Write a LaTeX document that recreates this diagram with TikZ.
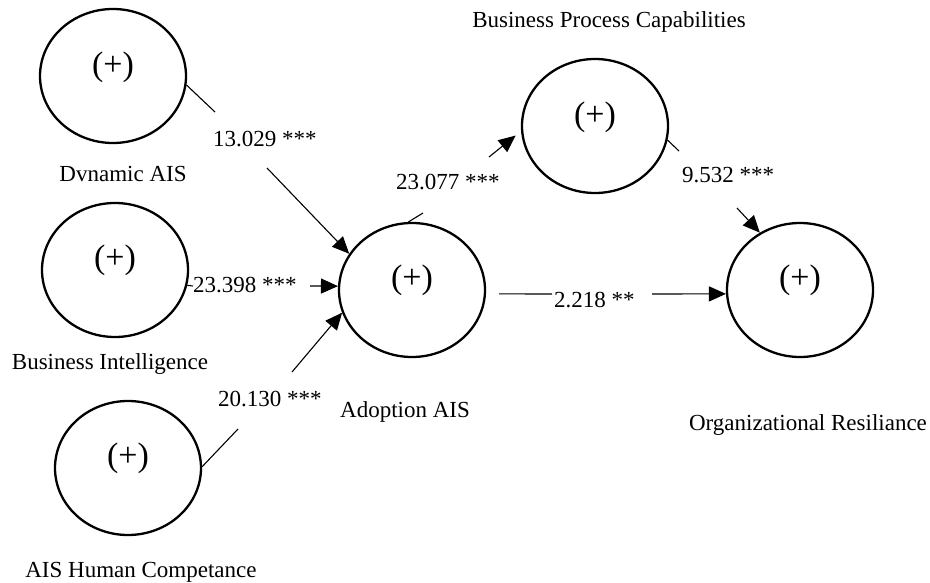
\documentclass[tikz,border=0pt]{standalone}
\usepackage{fontspec}
\setmainfont{Liberation Serif}
\usetikzlibrary{shapes.geometric,arrows.meta}
\begin{document}
\begin{tikzpicture}[x=1pt,y=-1pt,
  construct/.style={ellipse,draw,line width=2.3pt,minimum width=146pt,minimum height=134pt,inner sep=0pt},
  plussign/.style={font=\fontsize{34}{40}\selectfont,inner sep=0pt},
  cname/.style={font=\fontsize{23}{27}\selectfont,inner sep=0pt,anchor=base},
  coef/.style={font=\fontsize{23}{27}\selectfont,inner sep=0pt,anchor=base west},
  link/.style={line width=1.1pt},
  arr/.style={line width=1.1pt,-{Triangle[length=17pt,width=15pt]}}]
\useasboundingbox (0,0) rectangle (930,583);
% constructs
\node[construct] (dyn) at (113,76) {};
\node[construct] (bi)  at (115,270) {};
\node[construct] (hc)  at (128,468) {};
\node[construct] (ado) at (412,290) {};
\node[construct] (bpc) at (595,126) {};
\node[construct] (org) at (800,290) {};
% (+) signs
\node[plussign] (dynp) at (113,67) {(+)};
\node[plussign] (bip)  at (115,260) {(+)};
\node[plussign] (hcp)  at (128,458) {(+)};
\node[plussign] (adop) at (412,280) {(+)};
\node[plussign] (bpcp) at (595,117) {(+)};
\node[plussign] (orgp) at (800,280) {(+)};
% names
\node[cname] (dynn) at (123,182) {Dvnamic AIS};
\node[cname] (bin)  at (110,369) {Business Intelligence};
\node[cname] (hcn)  at (141,577) {AIS Human Competance};
\node[cname] (adon) at (405,417) {Adoption AIS};
\node[cname] (bpcn) at (609,28) {Business Process Capabilities};
\node[cname] (orgn) at (808,430) {Organizational Resiliance};
% coefficients
\node[coef] (k1) at (213,147) {13.029 ***};
\node[coef] (k2) at (193,292) {23.398 ***};
\node[coef] (k3) at (218,406) {20.130 ***};
\node[coef] (k4) at (396,190) {23.077 ***};
\node[coef] (k5) at (682,183) {9.532 ***};
\node[coef] (k6) at (554,307) {2.218 **};
% connectors
\coordinate (d1) at (215,112);
\coordinate (d2) at (267,168);
\draw[link] (dyn.-7) -- (d1);
\draw[arr] (d2) -- (ado.150);
\coordinate (b1) at (193,286);
\coordinate (b2) at (310,286);
\draw[link] (bi.-12) -- (b1);
\draw[arr] (b2) -- (ado.177);
\coordinate (h1) at (238,429);
\coordinate (h2) at (292,372);
\draw[link] (hc.1) -- (h1);
\draw[arr] (h2) -- (ado.198);
\coordinate (a1) at (423,213);
\coordinate (a2) at (489,157);
\draw[link] (ado.93) -- (a1);
\draw[arr,shorten >=7pt] (a2) -- (bpc.184);
\coordinate (p1) at (679,151);
\coordinate (p2) at (737,208);
\draw[link] (bpc.-11) -- (p1);
\draw[arr] (p2) -- (org.125);
\coordinate (o1) at (552,294);
\coordinate (o2) at (652,294);
\draw[link,shorten <=13pt] (ado.-3) -- (o1);
\draw[arr] (o2) -- (org.183);
\end{tikzpicture}
\end{document}
